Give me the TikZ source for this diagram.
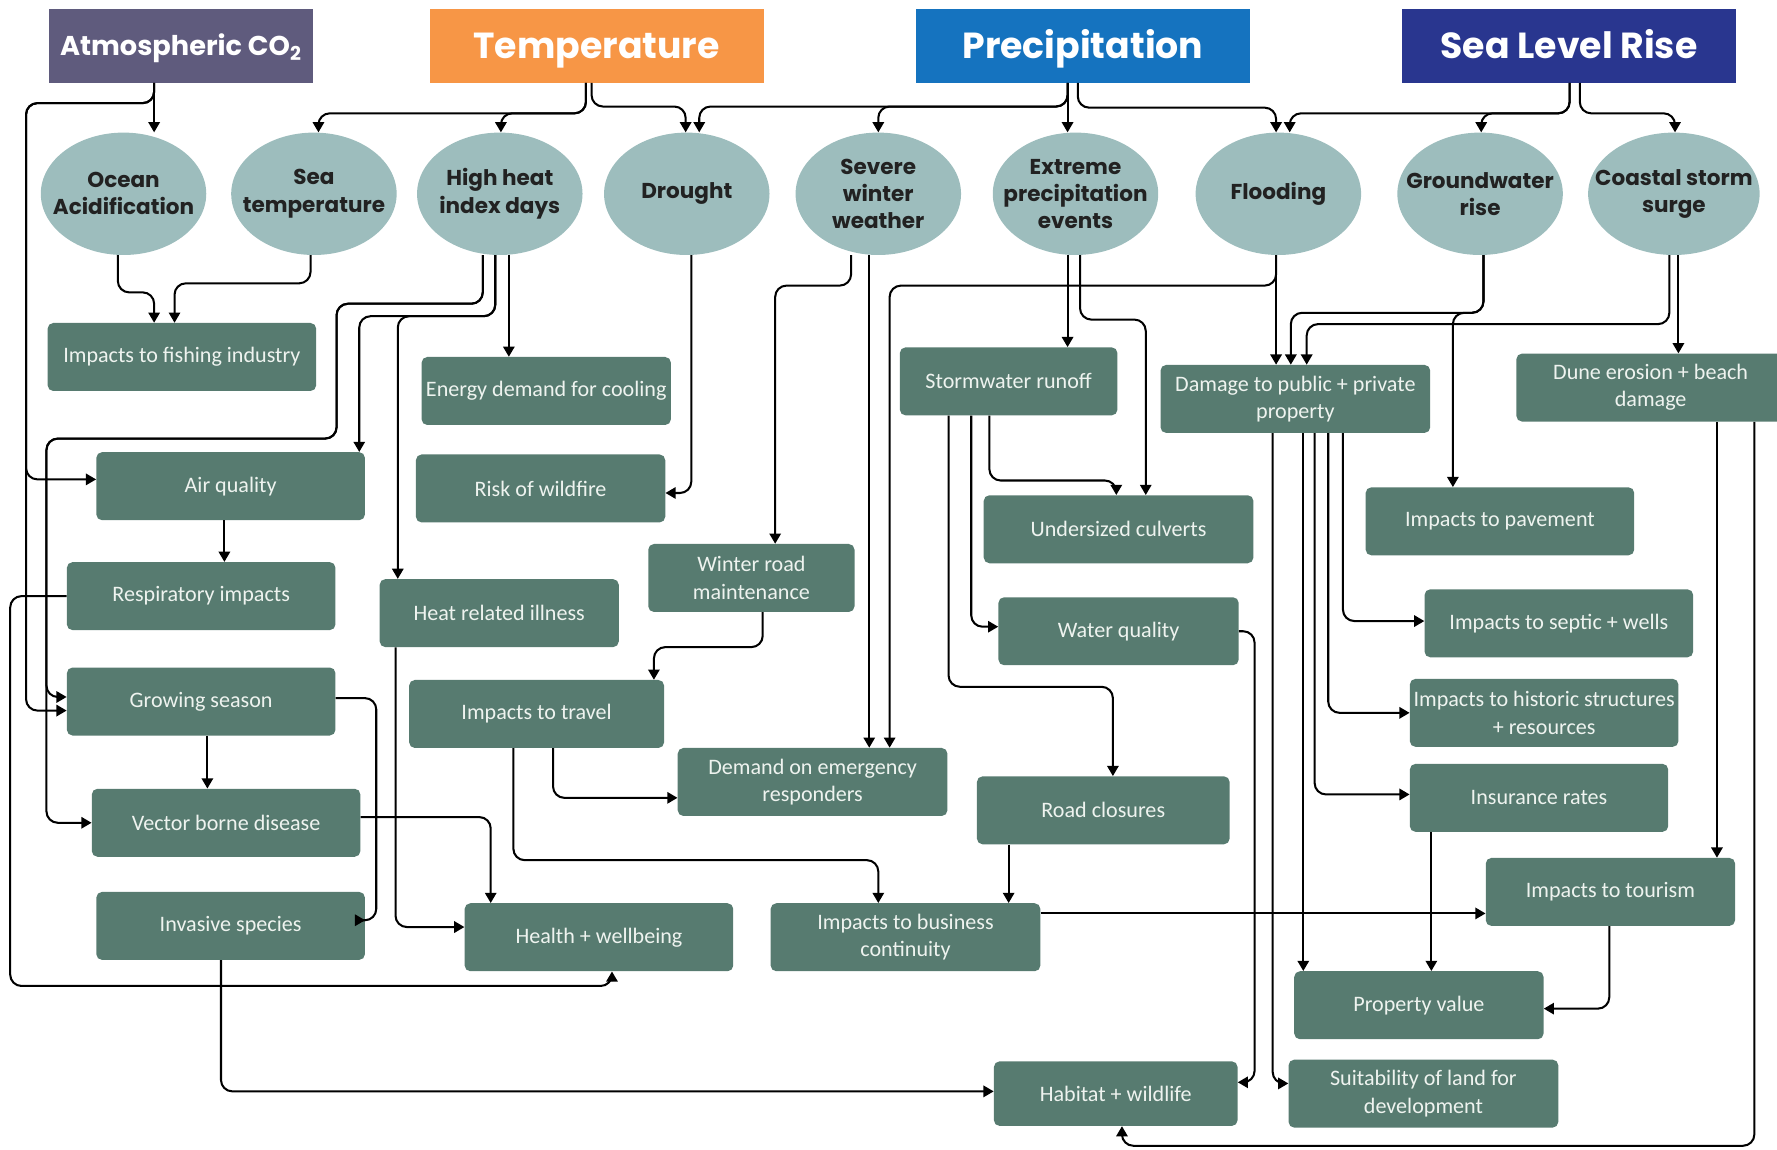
\documentclass[tikz,border=0pt]{standalone}
\usepackage{fontspec}
\setmainfont{Carlito}
\newfontfamily\headfont{Poppins}
\usetikzlibrary{shapes.geometric,arrows.meta}
\definecolor{boxgreen}{HTML}{577B70}
\definecolor{hazardteal}{HTML}{9DBDBD}
\definecolor{co2purple}{HTML}{5F5B7D}
\definecolor{temporange}{HTML}{F79646}
\definecolor{rainblue}{HTML}{1573BF}
\definecolor{seablue}{HTML}{29368F}
\definecolor{boxtext}{HTML}{EEF3EF}
\definecolor{hazardtext}{HTML}{222222}
\begin{document}
\begin{tikzpicture}[x=1pt,y=-1pt,
    driver/.style={rectangle, minimum height=65pt, minimum width=295pt, inner sep=0pt, text=white, text height=22pt, text depth=0pt, font=\headfont\bfseries\fontsize{32}{36}\selectfont},
    hazard/.style={ellipse, fill=hazardteal, minimum width=146pt, minimum height=108pt, inner xsep=-16pt, inner ysep=0pt, align=center, text=hazardtext, font=\headfont\bfseries\fontsize{19}{24}\selectfont},
    impact/.style={rectangle, rounded corners=5pt, fill=boxgreen, minimum height=60pt, inner sep=0pt, align=center, text=boxtext, font=\fontsize{19.5}{24}\selectfont},
    link/.style={draw, line width=1.8pt, rounded corners=10pt, -{Triangle[length=9pt,width=10pt]}}]
    \useasboundingbox (0,0) rectangle (1568,1014);
    % drivers
    \node [driver, fill=co2purple, minimum width=233pt, text height=17pt, font=\headfont\bfseries\fontsize{24}{28}\selectfont] (co2) at (159.5,40.5) {Atmospheric CO\textsubscript{2}};
    \node [driver, fill=temporange] (temp) at (526.5,40.5) {Temperature};
    \node [driver, fill=rainblue] (precip) at (955.5,40.5) {Precipitation};
    \node [driver, fill=seablue] (slr) at (1384.5,40.5) {Sea Level Rise};
    % hazards
    \node [hazard] (ocean) at (109,171) {Ocean\\Acidification};
    \node [hazard] (seatemp) at (277,171) {Sea\\temperature};
    \node [hazard] (heat) at (441,171) {High heat\\index days};
    \node [hazard] (drought) at (606,171) {Drought};
    \node [hazard] (winter) at (775,171) {Severe\\winter\\weather};
    \node [hazard] (extreme) at (949,171) {Extreme\\precipitation\\events};
    \node [hazard] (flood) at (1128,171) {Flooding};
    \node [hazard] (ground) at (1306,171) {Groundwater\\rise};
    \node [hazard] (surge) at (1477,171) {Coastal storm\\surge};
    % impacts
    \node [impact, minimum width=237pt] (fish) at (160.5,315) {Impacts to fishing industry};
    \node [impact, minimum width=220pt] (energy) at (482,345) {Energy demand for cooling};
    \node [impact, minimum width=192pt] (storm) at (890,336.5) {Stormwater runoff};
    \node [impact, minimum width=238pt] (damage) at (1143,352) {Damage to public + private\\property};
    \node [impact, minimum width=237pt] (dune) at (1456.5,342) {Dune erosion + beach\\damage};
    \node [impact, minimum width=237pt] (air) at (203.5,429) {Air quality};
    \node [impact, minimum width=220pt] (wildfire) at (477,431) {Risk of wildfire};
    \node [impact, minimum width=238pt] (culverts) at (987,467) {Undersized culverts};
    \node [impact, minimum width=237pt] (pavement) at (1323.5,460) {Impacts to pavement};
    \node [impact, minimum width=237pt] (resp) at (177.5,526) {Respiratory impacts};
    \node [impact, minimum width=211pt] (heatill) at (440.5,541) {Heat related illness};
    \node [impact, minimum width=182pt] (winterroad) at (663,510) {Winter road\\maintenance};
    \node [impact, minimum width=212pt] (waterq) at (987,557) {Water quality};
    \node [impact, minimum width=237pt] (septic) at (1375.5,550) {Impacts to septic + wells};
    \node [impact, minimum width=237pt] (grow) at (177.5,619) {Growing season};
    \node [impact, minimum width=225pt] (travel) at (473.5,630) {Impacts to travel};
    \node [impact, minimum width=238pt] (demand) at (717,690) {Demand on emergency\\responders};
    \node [impact, minimum width=237pt] (historic) at (1362.5,629) {Impacts to historic structures\\+ resources};
    \node [impact, minimum width=223pt] (road) at (973.5,715) {Road closures};
    \node [impact, minimum width=228pt] (insurance) at (1358,704) {Insurance rates};
    \node [impact, minimum width=237pt] (vector) at (199.5,726) {Vector borne disease};
    \node [impact, minimum width=220pt] (tourism) at (1421,787) {Impacts to tourism};
    \node [impact, minimum width=237pt] (invasive) at (203.5,817) {Invasive species};
    \node [impact, minimum width=237pt] (health) at (528.5,827) {Health + wellbeing};
    \node [impact, minimum width=238pt] (business) at (799,827) {Impacts to business\\continuity};
    \node [impact, minimum width=220pt] (propval) at (1252,887) {Property value};
    \node [impact, minimum width=215pt, minimum height=57pt] (habitat) at (984.5,965) {Habitat + wildlife};
    \node [impact, minimum width=238pt] (suit) at (1256,965) {Suitability of land for\\development};
    % drivers to hazards
    \draw [link] (136,0 |- co2.south) -- (136,0 |- ocean.north);
    \draw [link] (136,0 |- co2.south) |- (23,91) |- (air.west |- 0,423);
    \draw [link] (136,0 |- co2.south) |- (23,91) |- ([yshift=-8pt]grow.west);
    \draw [link] (517,0 |- temp.south) |- (281,100) -- (281,0 |- seatemp.north);
    \draw [link] (517,0 |- temp.south) |- (442,100) -- (442,0 |- heat.north);
    \draw [link] (522,0 |- temp.south) |- (605,94) -- (605,0 |- drought.north);
    \draw [link] (942,0 |- precip.south) |- (617,94) -- (617,0 |- drought.north);
    \draw [link] (942,0 |- precip.south) |- (775,94) -- (775,0 |- winter.north);
    \draw [link] (942,0 |- precip.south) -- (942,0 |- extreme.north);
    \draw [link] (951,0 |- precip.south) |- (1126,95) -- (1126,0 |- flood.north);
    \draw [link] (1385,0 |- slr.south) |- (1138,100) -- (1138,0 |- flood.north);
    \draw [link] (1385,0 |- slr.south) |- (1307,100) -- (1307,0 |- ground.north);
    \draw [link] (1394,0 |- slr.south) |- (1478,100) -- (1478,0 |- surge.north);
    % hazards to impacts
    \draw [link] (104,0 |- ocean.south) |- (136,258) -- (136,0 |- fish.north);
    \draw [link] (274,0 |- seatemp.south) |- (154,250) -- (154,0 |- fish.north);
    \draw [link] (449,0 |- heat.south) -- (449,0 |- energy.north);
    \draw [link] (437,0 |- heat.south) |- (317,279) -- (317,0 |- air.north);
    \draw [link] (437,0 |- heat.south) |- (351,279) -- (351,0 |- heatill.north);
    \draw [link] (426,0 |- heat.south) |- (297,268) |- (41,387) |- ([yshift=4pt]grow.west);
    \draw [link] (426,0 |- heat.south) |- (297,268) |- (41,387) |- (vector.west);
    \draw [link] (610,0 |- drought.south) |- ([yshift=-4pt]wildfire.east);
    \draw [link] (751,0 |- winter.south) |- (684,252) -- (684,0 |- winterroad.north);
    \draw [link] (767,0 |- winter.south) -- (767,0 |- demand.north);
    \draw [link] (1126,0 |- flood.south) |- (785,252) -- (785,0 |- demand.north);
    \draw [link] (1126,0 |- flood.south) -- (1126,0 |- damage.north);
    \draw [link] (1309,0 |- ground.south) |- (1139,276) -- (1139,0 |- damage.north);
    \draw [link] (1309,0 |- ground.south) |- (1282,276) -- (1282,0 |- pavement.north);
    \draw [link] (1473,0 |- surge.south) |- (1153,286) -- (1153,0 |- damage.north);
    \draw [link] (1481,0 |- surge.south) -- (1481,0 |- dune.north);
    \draw [link] (942,0 |- extreme.south) -- (942,0 |- storm.north);
    \draw [link] (953,0 |- extreme.south) |- (1011,282) -- (1011,0 |- culverts.north);
    % impacts to impacts
    \draw [link] (873,0 |- storm.south) |- (985,424) -- (985,0 |- culverts.north);
    \draw [link] (857,0 |- storm.south) |- ([yshift=4pt]waterq.west);
    \draw [link] (837,0 |- storm.south) |- (982,606) -- (982,0 |- road.north);
    \draw [link] (waterq.east) -| (1107,955) -- (habitat.east |- 0,955);
    \draw [link] (890,0 |- road.south) -- (890,0 |- business.north);
    \draw [link] (business.east |- 0,806) -- (tourism.west |- 0,806);
    \draw [link] (488,0 |- travel.south) |- ([yshift=-14pt]demand.west);
    \draw [link] (453,0 |- travel.south) |- (775,759) -- (775,0 |- business.north);
    \draw [link] (673,0 |- winterroad.south) |- (577,571) -- (577,0 |- travel.north);
    \draw [link] (198,0 |- air.south) -- (198,0 |- resp.north);
    \draw [link] (resp.west) -| (9,870) -| (540,0 |- health.south);
    \draw [link] (349,0 |- heatill.south) |- ([yshift=9pt]health.west);
    \draw [link] ([yshift=3pt]grow.east) -| (332,812) -- (invasive.east |- 0,812);
    \draw [link] (183,0 |- grow.south) -- (183,0 |- vector.north);
    \draw [link] ([yshift=5pt]vector.east) -| (433,0 |- health.north);
    \draw [link] (195,0 |- invasive.south) |- (habitat.west |- 0,963);
    \draw [link] (1185,0 |- damage.south) |- (septic.west |- 0,548);
    \draw [link] (1172,0 |- damage.south) |- (historic.west);
    \draw [link] (1160,0 |- damage.south) |- (insurance.west |- 0,701);
    \draw [link] (1150,0 |- damage.south) -- (1150,0 |- propval.north);
    \draw [link] (1123,0 |- damage.south) |- (suit.west |- 0,956);
    \draw [link] (1263,0 |- insurance.south) -- (1263,0 |- propval.north);
    \draw [link] (1420,0 |- tourism.south) |- (propval.east |- 0,890);
    \draw [link] (1515,0 |- dune.south) -- (1515,0 |- tourism.north);
    \draw [link] (1548,0 |- dune.south) |- (990,1011) -- (990,0 |- habitat.south);
\end{tikzpicture}
\end{document}
